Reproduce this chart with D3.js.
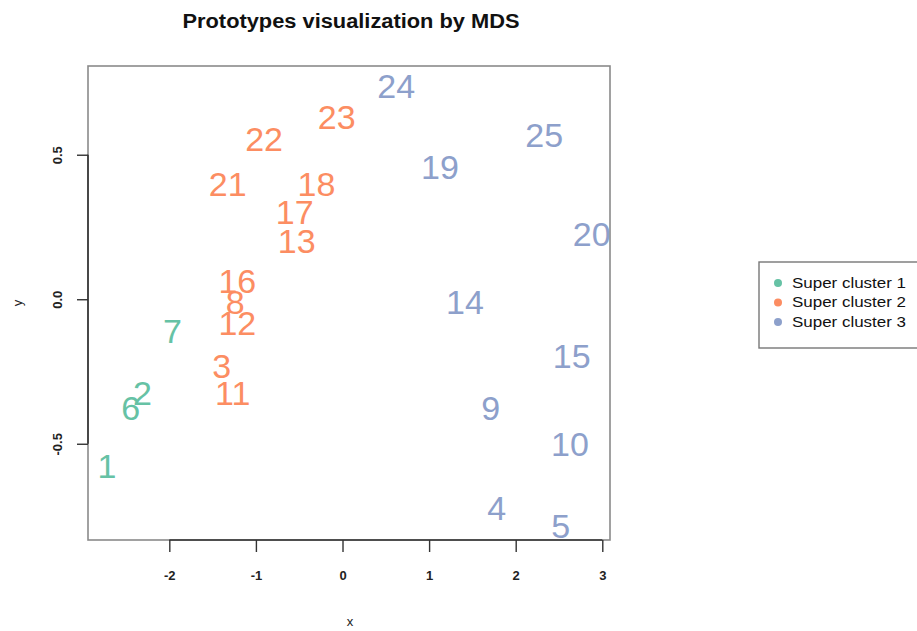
<!DOCTYPE html>
<html>
<head>
<meta charset="utf-8">
<script src="https://cdn.jsdelivr.net/npm/d3@7"></script>
<style>
  html, body { margin: 0; padding: 0; background: #fff; }
  svg { display: block; }
  text { font-family: "Liberation Sans", Arial, Helvetica, sans-serif; }
</style>
</head>
<body>
<svg id="chart" width="917" height="631"></svg>
<script>
// Prototype ids, their MDS coordinates and the super cluster each belongs to
const ids      = [1, 2, 3, 4, 5, 6, 7, 8, 9, 10, 11, 12, 13, 14, 15, 16, 17, 18, 19, 20, 21, 22, 23, 24, 25];
const xValues  = [-2.72, -2.31, -1.395, 1.78, 2.52, -2.446, -1.965, -1.24, 1.711, 2.627, -1.268, -1.215, -0.529, 1.414, 2.647, -1.215, -0.552, -0.30, 1.126, 2.878, -1.326, -0.906, -0.067, 0.62, 2.33];
const yValues  = [-0.576, -0.322, -0.230, -0.720, -0.783, -0.377, -0.109, -0.01, -0.374, -0.501, -0.322, -0.080, 0.203, -0.010, -0.195, 0.064, 0.301, 0.399, 0.457, 0.226, 0.399, 0.555, 0.632, 0.739, 0.568];
const clusters = [1, 1, 2, 3, 3, 1, 1, 2, 3, 3, 2, 2, 2, 3, 3, 2, 2, 2, 3, 3, 2, 2, 2, 3, 3];

const clusterNames  = ["Super cluster 1", "Super cluster 2", "Super cluster 3"];
const clusterColors = ["#66C2A5", "#FC8D62", "#8DA0CB"];
const xTicks = [-2, -1, 0, 1, 2, 3];
const yTicks = [-0.5, 0.0, 0.5];

const svg = d3.select("#chart");
const box = { left: 88, right: 610, top: 66, bottom: 540 };

const x = d3.scaleLinear().domain([-2.939, 3.089]).range([box.left, box.right]);
const y = d3.scaleLinear().domain([-0.833, 0.807]).range([box.bottom, box.top]);

// title
svg.append("text")
  .attr("x", 351).attr("y", 28)
  .attr("text-anchor", "middle")
  .attr("font-size", 20).attr("font-weight", "bold")
  .attr("fill", "#111")
  .attr("textLength", 337).attr("lengthAdjust", "spacingAndGlyphs")
  .text("Prototypes visualization by MDS");

// plot frame
svg.append("rect")
  .attr("x", box.left).attr("y", box.top)
  .attr("width", box.right - box.left).attr("height", box.bottom - box.top)
  .attr("fill", "none").attr("stroke", "#8a8a8a").attr("stroke-width", 1.6);

// bottom axis
const xAxis = svg.append("g")
  .attr("transform", `translate(0,${box.bottom})`)
  .call(d3.axisBottom(x).tickValues(xTicks).tickSize(12).tickSizeOuter(0).tickPadding(19)
    .tickFormat(d3.format("d")));
xAxis.select(".domain").remove();
xAxis.append("line")
  .attr("x1", x(xTicks[0])).attr("x2", x(xTicks[xTicks.length - 1]))
  .attr("stroke", "#333").attr("stroke-width", 1.6);
xAxis.selectAll(".tick line").attr("stroke", "#333").attr("stroke-width", 1.4);
xAxis.selectAll(".tick text")
  .attr("font-size", 13).attr("font-weight", "bold").attr("fill", "#222")
  .attr("font-family", "Liberation Sans, Arial, sans-serif")
  .text(d => d < 0 ? "-" + Math.abs(d) : d);

// left axis with labels parallel to the axis
const yAxis = svg.append("g")
  .attr("transform", `translate(${box.left},0)`)
  .call(d3.axisLeft(y).tickValues(yTicks).tickSize(11).tickSizeOuter(0)
    .tickFormat(d => d3.format(".1f")(d).replace("−", "-")));
yAxis.select(".domain").remove();
yAxis.append("line")
  .attr("y1", y(yTicks[0])).attr("y2", y(yTicks[yTicks.length - 1]))
  .attr("stroke", "#333").attr("stroke-width", 1.6);
yAxis.selectAll(".tick line").attr("stroke", "#333").attr("stroke-width", 1.4);
yAxis.selectAll(".tick text")
  .attr("font-size", 13).attr("font-weight", "bold").attr("fill", "#222")
  .attr("font-family", "Liberation Sans, Arial, sans-serif")
  .attr("text-anchor", "middle")
  .attr("x", null).attr("dy", null)
  .attr("transform", "translate(-31,0) rotate(-90)")
  .attr("dominant-baseline", "central");

// axis titles
svg.append("text")
  .attr("x", 350).attr("y", 626)
  .attr("text-anchor", "middle").attr("font-size", 13).attr("fill", "#222")
  .text("x");
svg.append("text")
  .attr("transform", `translate(22,${(box.top + box.bottom) / 2}) rotate(-90)`)
  .attr("text-anchor", "middle").attr("font-size", 13).attr("fill", "#222")
  .text("y");

// prototype labels
const points = ids.map((id, i) => ({ id, x: xValues[i], y: yValues[i], c: clusters[i] }));
svg.append("g").selectAll("text")
  .data(points)
  .join("text")
  .attr("x", d => x(d.x))
  .attr("y", d => y(d.y))
  .attr("dy", "0.36em")
  .attr("text-anchor", "middle")
  .attr("font-size", 34)
  .attr("fill", d => clusterColors[d.c - 1])
  .text(d => d.id);

// legend
const legend = svg.append("g");
legend.append("rect")
  .attr("x", 759).attr("y", 262).attr("width", 170).attr("height", 86)
  .attr("fill", "#fff").attr("stroke", "#777").attr("stroke-width", 1.4);
const items = legend.selectAll("g.item")
  .data(clusterNames)
  .join("g")
  .attr("class", "item")
  .attr("transform", (d, i) => `translate(0,${283 + i * 19.5})`);
items.append("circle")
  .attr("cx", 778).attr("cy", 0).attr("r", 4)
  .attr("fill", (d, i) => clusterColors[i]);
items.append("text")
  .attr("x", 792).attr("y", 0).attr("dy", "0.35em")
  .attr("font-size", 14).attr("fill", "#111")
  .attr("textLength", 114).attr("lengthAdjust", "spacingAndGlyphs")
  .text(d => d);
</script>
</body>
</html>
